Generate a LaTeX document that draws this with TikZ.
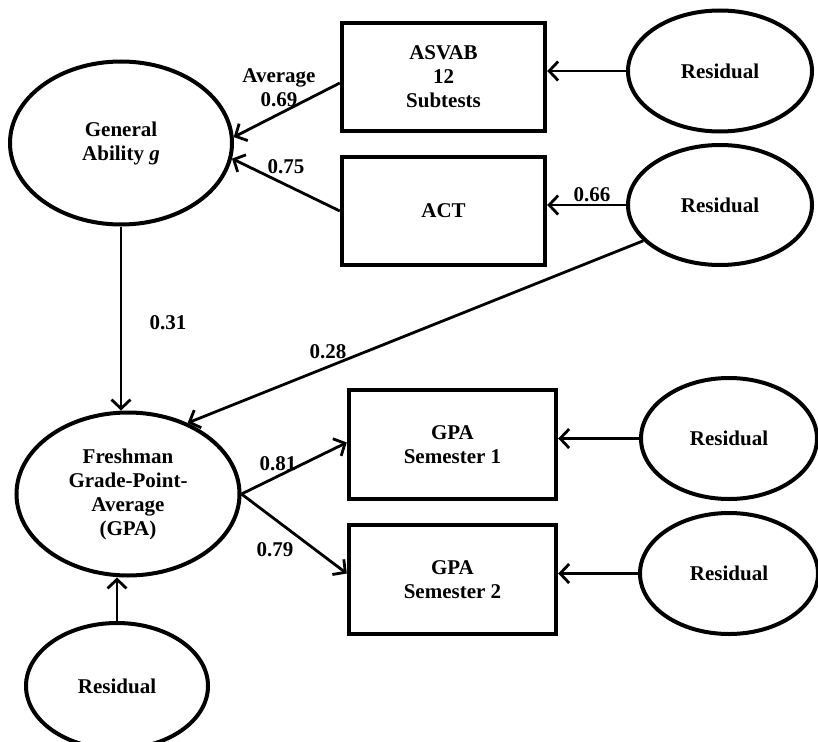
\documentclass[tikz,border=0pt]{standalone}
\usepackage{fontspec}
\setmainfont{Liberation Serif}
\usetikzlibrary{arrows.meta,shapes.geometric}
\begin{document}
\begin{tikzpicture}[x=1pt,y=-1pt,
  every node/.style={font=\fontsize{21}{24}\selectfont\bfseries, align=center},
  latent/.style={draw, ellipse, line width=4pt, inner sep=0pt},
  obsbox/.style={draw, rectangle, line width=4.4pt, inner sep=0pt},
  arr/.style={line width=2.8pt, -{Straight Barb[length=9pt,width=19pt,line width=2.8pt]}},
  lbl/.style={inner sep=0pt}]
\useasboundingbox (0,0) rectangle (818,741);
% nodes
\node[latent, minimum width=222pt, minimum height=163pt] (ga) at (121,143) {General\\Ability \textit{g}};
\node[obsbox, minimum width=203pt, minimum height=108pt] (asvab) at (443.5,77) {ASVAB\\12\\Subtests};
\node[obsbox, minimum width=203pt, minimum height=108pt] (act) at (443.5,211) {ACT};
\node[latent, minimum width=184pt, minimum height=121pt] (r1) at (720,71) {Residual};
\node[latent, minimum width=184pt, minimum height=120pt] (r2) at (720,205) {Residual};
\node[latent, minimum width=223pt, minimum height=163pt] (fgpa) at (128,494) {Freshman\\Grade-Point-\\Average\\ (GPA)};
\node[obsbox, minimum width=207pt, minimum height=109pt] (s1) at (452.5,444.5) {GPA\\Semester 1};
\node[obsbox, minimum width=207pt, minimum height=109pt] (s2) at (452.5,579.5) {GPA\\Semester 2};
\node[latent, minimum width=176pt, minimum height=121pt] (r3) at (729,438.5) {Residual};
\node[latent, minimum width=178pt, minimum height=121pt] (r4) at (729,573.5) {Residual};
\node[latent, minimum width=182pt, minimum height=126pt] (r5) at (117,686) {Residual};
% connectors
\draw[arr] (r1.west) -- (r1.west -| asvab.east);
\draw[arr] (r2.west) -- (r2.west -| act.east);
\draw[arr] ([yshift=-6pt]asvab.west) -- (ga.3);
\draw[arr] (act.west) -- (ga.-8);
\draw[arr] (ga.south) -- (fgpa.north -| ga.south);
\draw[arr] (r2.205) -- (fgpa.50);
\draw[arr] (fgpa.east) -- ([yshift=2pt]s1.west);
\draw[arr] (fgpa.east) -- ([yshift=6pt]s2.west);
\draw[arr] (r3.west) -- (r3.west -| s1.east);
\draw[arr] (r4.west) -- (r4.west -| s2.east);
\draw[arr] (r5.north) -- (fgpa.south -| r5.north);
% labels
\node[lbl] (l069) at (279,88) {Average\\0.69};
\node[lbl] (l075) at (286,167) {0.75};
\node[lbl] (l066) at (592,195) {0.66};
\node[lbl] (l031) at (168,323) {0.31};
\node[lbl] (l028) at (328,352) {0.28};
\node[lbl] (l081) at (278,464) {0.81};
\node[lbl] (l079) at (275,550) {0.79};
\end{tikzpicture}
\end{document}
